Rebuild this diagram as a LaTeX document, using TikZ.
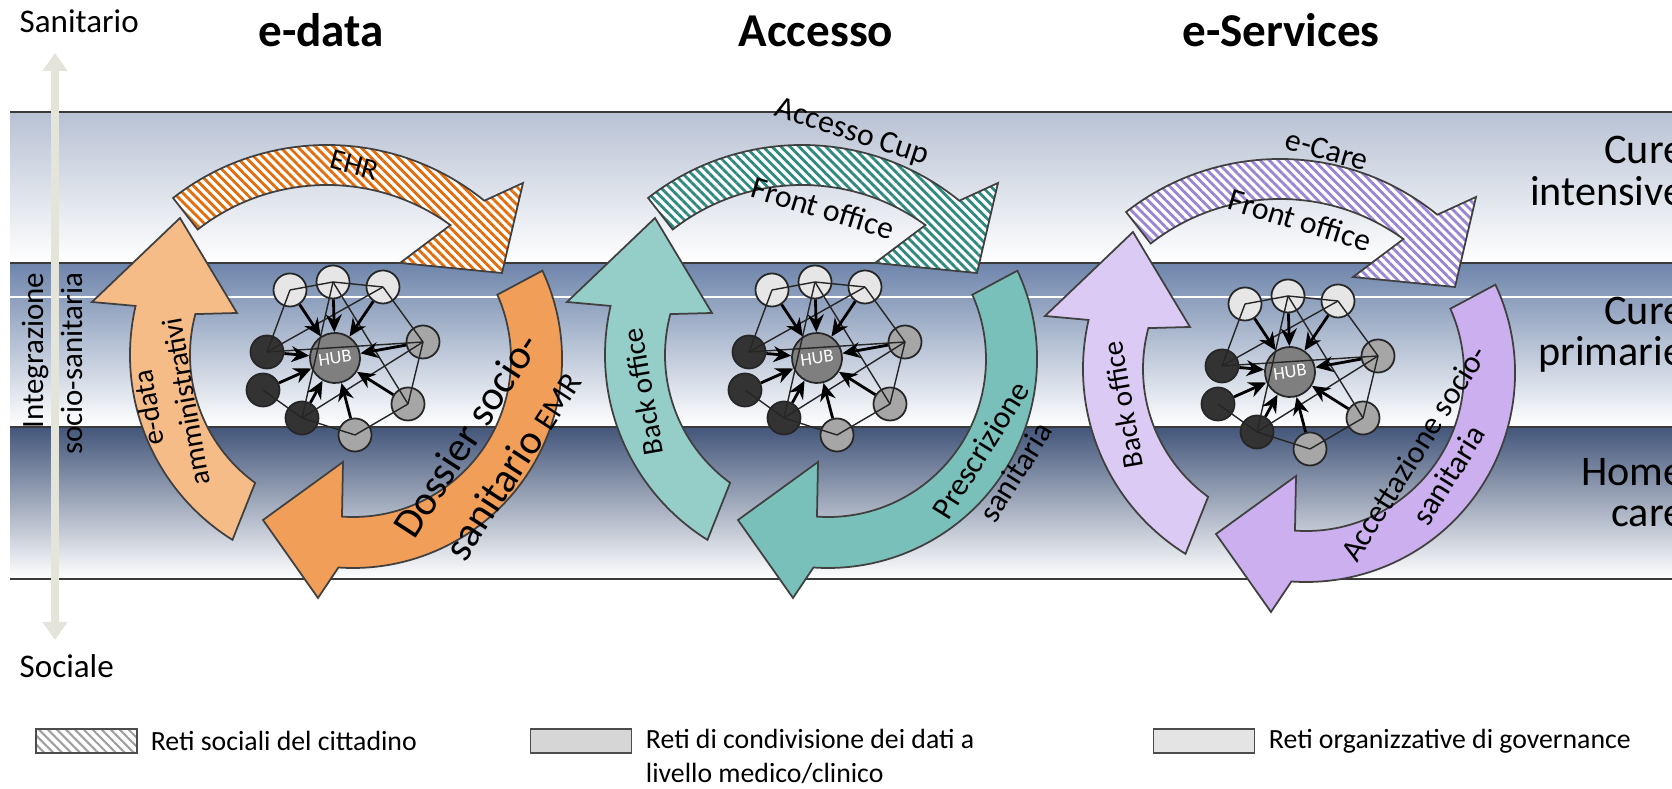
\documentclass[tikz,border=0pt]{standalone}
\usepackage{fontspec}
\setmainfont{Carlito}
\usetikzlibrary{positioning,patterns.meta,arrows.meta}

\definecolor{bandone}{HTML}{B8C2D4}
\definecolor{bandtwo}{HTML}{6E85AB}
\definecolor{bandthree}{HTML}{43567A}
\definecolor{edgegrey}{HTML}{3A3A3A}
\definecolor{axisgrey}{HTML}{E4E4DA}
\definecolor{ringline}{HTML}{404040}
\definecolor{edataS}{HTML}{E46C0A}
\definecolor{edataL}{HTML}{F6BC88}
\definecolor{edataR}{HTML}{F09E58}
\definecolor{accS}{HTML}{2E8A80}
\definecolor{accL}{HTML}{95CDC9}
\definecolor{accR}{HTML}{79C0BA}
\definecolor{eservS}{HTML}{9A84D6}
\definecolor{eservL}{HTML}{DBCAF3}
\definecolor{eservR}{HTML}{CBAFEE}
\definecolor{nodelight}{HTML}{E6E6E6}
\definecolor{nodedark}{HTML}{333333}
\definecolor{nodemid}{HTML}{A6A6A6}
\definecolor{nodehub}{HTML}{7F7F7F}
\definecolor{netline}{HTML}{262626}
\definecolor{legdark}{HTML}{D6D6D6}
\definecolor{leglight}{HTML}{E4E4E4}

% point on a circle: centre x, centre y, angle, radius
\newcommand\ringpt[4]{({#1+#4*cos(#3)},{#2+#4*sin(#3)})}

\tikzset{
  hubnet/.pic={
    \node[hub node] (-hub) at (0,0) {HUB};
    \node[light node] (-l1) at (-45,68) {};
    \node[light node] (-l2) at (-2,76) {};
    \node[light node] (-l3) at (48,71) {};
    \node[dark node] (-d1) at (-68,6) {};
    \node[dark node] (-d2) at (-72,-32) {};
    \node[dark node] (-d3) at (-33,-60) {};
    \node[mid node] (-m1) at (88,16) {};
    \node[mid node] (-m2) at (73,-46) {};
    \node[mid node] (-m3) at (20,-77) {};
    \path[link]
      (-l1.center) edge (-l2.center)
      (-l2.center) edge (-l3.center)
      (-l1.center) edge (-d1.center)
      (-l3.center) edge (-m1.center)
      (-l3.center) edge (-d1.center)
      (-l2.center) edge (-m2.center)
      (-l2.center) edge (-d3.center)
      (-d1.center) edge (-m1.center)
      (-d3.center) edge (-m1.center)
      (-d2.center) edge (-d3.center)
      (-d3.center) edge (-m3.center)
      (-m1.center) edge (-m2.center)
      (-m2.center) edge (-m3.center)
      ;
    \path[feed]
      (-l1) edge (-hub)
      (-l2) edge (-hub)
      (-l3) edge (-hub)
      (-d1) edge (-hub)
      (-d2) edge (-hub)
      (-d3) edge (-hub)
      (-m1) edge (-hub)
      (-m2) edge (-hub)
      (-m3) edge (-hub)
      ;
  }
}

\begin{document}
\begin{tikzpicture}[x=0.01cm,y=0.01cm,>=stealth,
    net node/.style={circle,draw=netline,line width=0.5pt,minimum size=0.33cm,inner sep=0pt},
    light node/.style={net node,fill=nodelight},
    dark node/.style={net node,fill=nodedark},
    mid node/.style={net node,fill=nodemid},
    hub node/.style={net node,fill=nodehub,minimum size=0.5cm,text=white,font=\fontsize{5.2}{6}\selectfont,rotate=8},
    link/.style={draw=netline,line width=0.4pt},
    feed/.style={-{Stealth[length=5pt,width=4.5pt]},draw=black,line width=0.8pt},
    ring/.style={draw=ringline,line width=0.5pt},
    bandrule/.style={draw=edgegrey,line width=0.6pt},
    axis arrow/.style={draw=axisgrey,line width=0.08cm,{Triangle[width=0.24cm,length=0.18cm]}-{Triangle[width=0.24cm,length=0.18cm]}},
    title/.style={anchor=base,inner sep=0pt,font=\fontsize{13.4}{16}\selectfont\bfseries},
    bandlabel/.style={anchor=east,align=right,inner sep=0pt,font=\fontsize{12}{11.7}\selectfont},
    sidetext/.style={inner sep=0pt,font=\fontsize{9.4}{11.1}\selectfont},
    armtext/.style={inner sep=0pt,align=center},
    small arm/.style={armtext,font=\fontsize{8.3}{10.8}\selectfont},
    mid arm/.style={armtext,font=\fontsize{9}{11.7}\selectfont},
    big arm/.style={armtext,font=\fontsize{11.8}{15.6}\selectfont},
    legbox/.style={draw=gray!60!black,line width=0.4pt,minimum width=1.01cm,minimum height=0.24cm,inner sep=0pt},
    legtext/.style={inner sep=0pt,align=left,font=\fontsize{7.9}{9.7}\selectfont}]

\useasboundingbox (0,0) rectangle (1672,-789);
\clip (0,0) rectangle (1672,-789);
\fill[white] (0,0) rectangle (1672,-789);

% bands
\shade[top color=bandone,bottom color=white] (10,-112) rectangle (1672,-263);
\shade[top color=bandtwo,bottom color=white] (10,-263) rectangle (1672,-427);
\shade[top color=bandthree,bottom color=white] (10,-427) rectangle (1672,-579);
\foreach \ly in {112,263,427,579}
  \draw[bandrule] (10,-\ly) -- (1672,-\ly);
\draw[white,line width=0.3pt] (10,-297) -- (1672,-297);

% side axis
\node[sidetext,anchor=base west] (san) at (19,-33) {Sanitario};
\node[sidetext,anchor=base west] (soc) at (19,-678) {Sociale};
\coordinate (up) at (55,-53);
\coordinate (down) at (55,-640);
\draw[axis arrow] (up) -- (down);
\node[sidetext,rotate=90,anchor=east,align=right,font=\fontsize{8.8}{11.1}\selectfont] (integr) at (52,-272) {Integrazione\\socio-sanitaria};

% titles
\node[title] (tdata) at (321,-47) {e-data};
\node[title] (tacc) at (816,-47) {Accesso};
\node[title] (tserv) at (1281,-47) {e-Services};

% band labels
\node[bandlabel] (cint) at (1685,-171) {Cure\\intensive};
\node[bandlabel] (cprim) at (1685,-335) {Cure\\primarie};
\node[bandlabel] (chome) at (1685,-493) {Home\\care};

% circular arrows
\foreach \gx/\gy/\stripecol/\leftcol/\rightcol in {342/-358/edataS/edataL/edataR,817/-358/accS/accL/accR,1295/-372/eservS/eservL/eservR}{
  \begin{scope}[shift={(\gx,\gy)}]
    \draw[ring,preaction={fill=white},pattern={Lines[angle=-45,distance=1.8pt,line width=0.8pt]},pattern color=\stripecol]
      \ringpt{-15}{-37}{128}{250} arc[start angle=128,end angle=51,radius=250]
      -- (181,175) -- (160,85) -- (58,95)
      -- \ringpt{-15}{-37}{54}{210} arc[start angle=54,end angle=128,radius=210] -- cycle;
    \draw[ring,fill=\leftcol]
      \ringpt{6}{3}{238}{218} arc[start angle=238,end angle=167,radius=218]
      -- (-250,56) -- (-162,140) -- (-105,45)
      -- \ringpt{6}{3}{165}{158} arc[start angle=165,end angle=234,radius=158] -- cycle;
    \draw[ring,fill=\rightcol]
      \ringpt{11}{-1}{25}{209} arc[start angle=25,end angle=-94,radius=209]
      -- (-24,-240) -- (-79,-162) -- (1,-104)
      -- \ringpt{11}{-1}{-94}{158} arc[start angle=-94,end angle=24,radius=158] -- cycle;
  \end{scope}
}

% networks
\pic (na) at (335,-358) {hubnet};
\pic (nb) at (817,-358) {hubnet};
\pic (nc) at (1290,-372) {hubnet};

% e-data labels
\node[small arm,rotate=-15] (ehr) at (354,-165) {EHR};
\node[small arm,rotate=100] (eamm) at (167,-405) {e-data\\amministrativi};
\node[big arm,rotate=57] (edos) at (489,-450) {Dossier socio-\\sanitario {\fontsize{9}{11}\selectfont EMR}};

% Accesso labels
\node[mid arm,rotate=-18] (acup) at (852,-133) {Accesso Cup};
\node[mid arm,rotate=-17] (afront) at (823,-208) {Front office};
\node[small arm,rotate=100] (aback) at (643,-392) {Back office};
\node[mid arm,rotate=58] (apres) at (998,-461) {Prescrizione\\sanitaria};

% e-Services labels
\node[mid arm,rotate=-16] (scare) at (1327,-150) {e-Care};
\node[mid arm,rotate=-17] (sfront) at (1300,-220) {Front office};
\node[small arm,rotate=100] (sback) at (1123,-405) {Back office};
\node[mid arm,rotate=58] (sacc) at (1431,-464) {Accettazione socio-\\sanitaria};

% legend
\node[legbox,preaction={fill=white},pattern={Lines[angle=-45,distance=1.8pt,line width=0.6pt]},pattern color=gray!75] (lsoc) at (86.5,-741) {};
\node[legtext,right=0.12cm of lsoc] (tsoc) {Reti sociali del cittadino};
\node[legbox,fill=legdark] (lcond) at (581,-741) {};
\node[legtext,below right=0pt and 0.13cm of lcond.north east] (tcond) {Reti di condivisione dei dati a\\livello medico/clinico};
\node[legbox,fill=leglight] (lgov) at (1204,-741) {};
\node[legtext,right=0.13cm of lgov] (tgov) {Reti organizzative di governance};
\end{tikzpicture}
\end{document}
